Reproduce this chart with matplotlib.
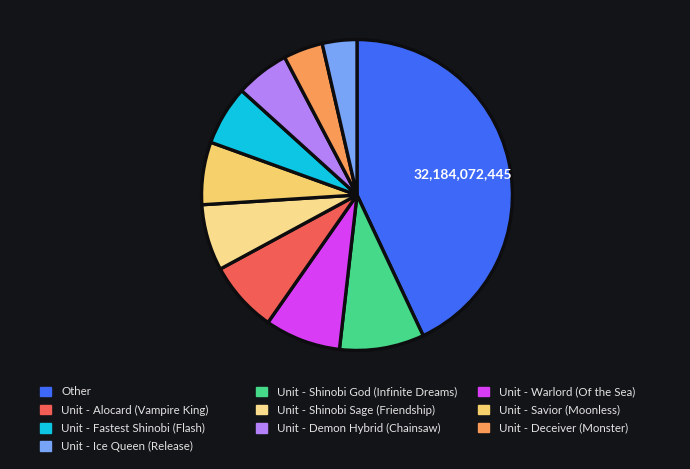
import matplotlib.pyplot as plt
from matplotlib.patches import Patch

plt.rcParams['font.family'] = ['Lato', 'DejaVu Sans']

# data (Other is labelled, rest estimated from angles)
units = ["Other",
         "Unit - Shinobi God (Infinite Dreams)",
         "Unit - Warlord (Of the Sea)",
         "Unit - Alocard (Vampire King)",
         "Unit - Shinobi Sage (Friendship)",
         "Unit - Savior (Moonless)",
         "Unit - Fastest Shinobi (Flash)",
         "Unit - Demon Hybrid (Chainsaw)",
         "Unit - Deceiver (Monster)",
         "Unit - Ice Queen (Release)"]
values = [32184072445, 6590000000, 5910000000, 5540000000, 5160000000,
          4870000000, 4640000000, 4190000000, 3070000000, 2690000000]
colors = ["#3e68f7", "#46d98a", "#d83cf5", "#f25d55", "#f9dc8c",
          "#f5d06b", "#0cc6e3", "#b480f7", "#f99a56", "#77a4f7"]

bg = "#131418"
fig = plt.figure(figsize=(6.9, 4.69), dpi=100, facecolor=bg)


def lbl(pct):
    if pct > 30:
        return "{:,.0f}".format(values[0])
    return ""


ax = fig.add_axes([(357 - 157) / 690, (469 - 195 - 157) / 469, 314 / 690, 314 / 469])
ax.set_facecolor(bg)
wedges, texts, auto = ax.pie(values, colors=colors, startangle=90, counterclock=False,
                             autopct=lbl, pctdistance=0.70,
                             wedgeprops=dict(edgecolor="#0d0d0f", linewidth=2.4),
                             textprops=dict(color="white", fontsize=10, fontweight="bold"))
auto[0].set_y(auto[0].get_position()[1] - 0.02)
ax.set_xlim(-1.01, 1.01)
ax.set_ylim(-1.01, 1.01)
ax.set_aspect("equal")
ax.axis("off")

# legend is laid out in fixed-width columns, filled row by row
ncol = 3
col_x = [30, 246, 468]
for c in range(ncol):
    idx = list(range(c, len(units), ncol))
    handles = [Patch(facecolor=colors[i], edgecolor=colors[i]) for i in idx]
    labs = [units[i] for i in idx]
    leg = fig.legend(handles, labs, loc="upper left",
                     bbox_to_anchor=(col_x[c] / 690, 1 - 376 / 469), frameon=False,
                     fontsize=8.3, labelcolor="#e3e3e3", handlelength=0.9,
                     handleheight=0.9, handletextpad=0.9, labelspacing=0.62)

fig.savefig("out.png", dpi=100, facecolor=bg)
